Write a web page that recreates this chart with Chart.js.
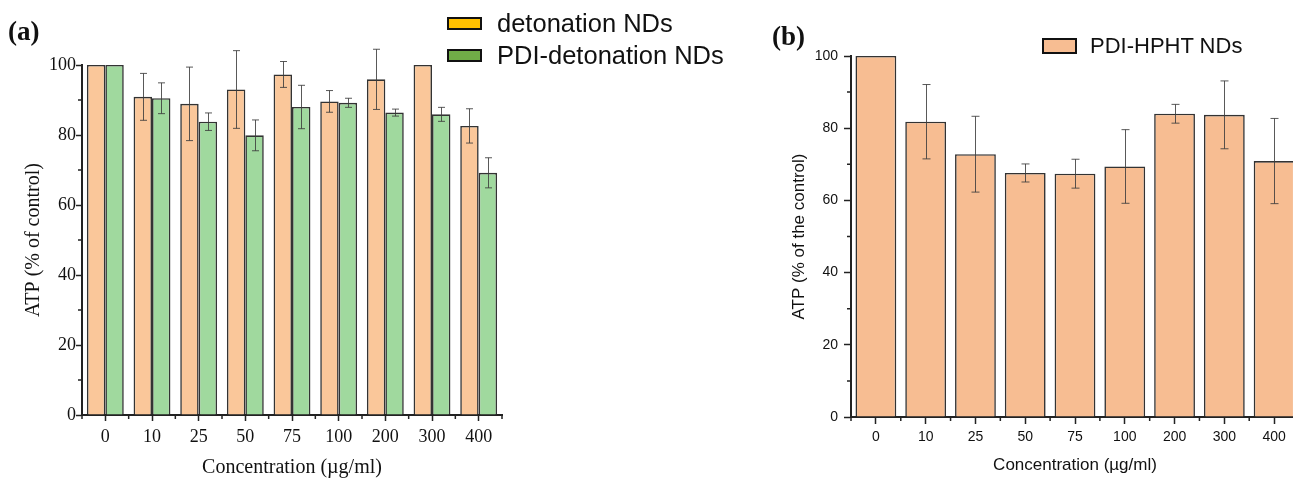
<!DOCTYPE html>
<html lang="en">
<head>
<meta charset="UTF-8">
<title>ATP (% of control)</title>
<script src="https://cdn.jsdelivr.net/npm/chart.js"></script>
<style>
  html, body { margin: 0; padding: 0; background: #fff; }
  body { width: 1293px; height: 479px; overflow: hidden; position: relative; }
  canvas { position: absolute; top: 0; }
  #chartA { left: 0; }
  #chartB { left: 770px; }
  .tag {
    position: absolute;
    font-family: 'Liberation Serif', 'Times New Roman', serif;
    font-weight: bold;
    font-size: 27px;
    line-height: 1;
    color: #111;
  }
  .legend-row {
    position: absolute;
    display: flex;
    align-items: center;
    font-family: 'Liberation Sans', Arial, sans-serif;
    color: #111;
    white-space: nowrap;
  }
  .legend-box {
    box-sizing: border-box;
    width: 35px;
    border: 2px solid #111;
  }
</style>
</head>
<body>
  <canvas id="chartA" width="520" height="479"></canvas>
  <canvas id="chartB" width="540" height="479"></canvas>

  <div class="tag" style="left:8px; top:18px;">(a)</div>
  <div class="tag" style="left:772px; top:23px;">(b)</div>

  <div class="legend-row" style="left:447px; top:9px; height:28px; font-size:25.5px;">
    <div class="legend-box" id="boxA1" style="height:13px; margin-right:15px;"></div><span id="legA1"></span>
  </div>
  <div class="legend-row" style="left:447px; top:41px; height:28px; font-size:25.5px;">
    <div class="legend-box" id="boxA2" style="height:13px; margin-right:15px;"></div><span id="legA2"></span>
  </div>
  <div class="legend-row" style="left:1042px; top:32px; height:28px; font-size:22px;">
    <div class="legend-box" id="boxB1" style="height:16px; margin-right:13px;"></div><span id="legB1"></span>
  </div>

  <script>
    // data
    const categories = ['0', '10', '25', '50', '75', '100', '200', '300', '400'];
    const yTicks = [0, 20, 40, 60, 80, 100];

    const detonation       = [100, 90.9, 88.9, 93.0, 97.3, 89.6, 95.9, 100, 82.6];
    const detonationErr    = [0, 6.7, 10.5, 11.1, 3.7, 3.1, 8.6, 0, 4.9];
    const pdiDetonation    = [100, 90.5, 83.8, 79.9, 88.0, 89.2, 86.4, 85.9, 69.2];
    const pdiDetonationErr = [0, 4.4, 2.5, 4.4, 6.2, 1.3, 1.0, 2.0, 4.3];
    const pdiHpht          = [100, 81.8, 72.8, 67.6, 67.4, 69.4, 84.0, 83.7, 70.9];
    const pdiHphtErr       = [0, 10.3, 10.5, 2.5, 4.0, 10.2, 2.6, 9.4, 11.8];

    const seriesNames = ['detonation NDs', 'PDI-detonation NDs', 'PDI-HPHT NDs'];
    const barColors = ['#FAC79A', '#A0D99E', '#F7BD92'];
    const legendColors = ['#FFC000', '#70AD47', '#F7BD92'];

    const serif = "'Liberation Serif', 'Times New Roman', serif";
    const sans = "'Liberation Sans', Arial, sans-serif";

    // html legends
    ['A1', 'A2', 'B1'].forEach((id, i) => {
      document.getElementById('leg' + id).textContent = seriesNames[i];
      document.getElementById('box' + id).style.background = legendColors[i];
    });

    const errorBars = {
      id: 'errorBars',
      afterDatasetsDraw(chart, args, opts) {
        const { ctx, scales: { y } } = chart;
        ctx.save();
        ctx.strokeStyle = opts.color;
        ctx.lineWidth = opts.width;
        chart.data.datasets.forEach((ds, di) => {
          if (!ds.errors) return;
          const meta = chart.getDatasetMeta(di);
          meta.data.forEach((bar, i) => {
            const e = ds.errors[i];
            if (!e) return;
            const v = ds.data[i];
            const top = y.getPixelForValue(v + e);
            const bot = y.getPixelForValue(v - e);
            const x = Math.round(bar.x) + 0.5;
            const c = opts.cap / 2;
            ctx.beginPath();
            ctx.moveTo(x, top); ctx.lineTo(x, bot);
            ctx.moveTo(x - c, top); ctx.lineTo(x + c, top);
            ctx.moveTo(x - c, bot); ctx.lineTo(x + c, bot);
            ctx.stroke();
          });
        });
        ctx.restore();
      }
    };

    const minorTicks = {
      id: 'minorTicks',
      afterDraw(chart, args, opts) {
        const { ctx, scales: { x, y } } = chart;
        ctx.save();
        ctx.strokeStyle = opts.color;
        ctx.lineWidth = opts.width;
        ctx.beginPath();
        for (let i = 0; i <= categories.length; i++) {
          const px = x.getPixelForValue(i - 0.5);
          ctx.moveTo(px, x.top);
          ctx.lineTo(px, x.top + opts.xLen);
        }
        for (let k = 0; k < yTicks.length - 1; k++) {
          const py = y.getPixelForValue((yTicks[k] + yTicks[k + 1]) / 2);
          ctx.moveTo(y.right, py);
          ctx.lineTo(y.right - opts.yLen, py);
        }
        ctx.stroke();
        ctx.restore();
      }
    };

    function axes(family, sizes, yTitle, dims) {
      return {
        x: {
          grid: { drawOnChartArea: false, offset: false, tickLength: dims.tick, tickColor: '#222', tickWidth: 1.5 },
          border: { color: '#222', width: 2 },
          ticks: { color: '#111', font: { family, size: sizes.tick }, padding: dims.xPad, maxRotation: 0 },
          title: {
            display: true, text: 'Concentration (µg/ml)', color: '#111',
            font: { family, size: sizes.title, lineHeight: 1 },
            padding: { top: 0, bottom: dims.xTitlePad }
          },
          afterFit: s => { s.height = dims.xHeight; }
        },
        y: {
          min: 0, max: 100,
          afterBuildTicks: s => { s.ticks = yTicks.map(v => ({ value: v })); },
          grid: { drawOnChartArea: false, tickLength: dims.tick, tickColor: '#222', tickWidth: 1.5 },
          border: { color: '#222', width: 2 },
          ticks: { color: '#111', font: { family, size: sizes.tick }, padding: dims.yPad },
          title: {
            display: true, text: yTitle, color: '#111',
            font: { family, size: sizes.title, lineHeight: 1 },
            padding: { top: dims.yTitlePad, bottom: 0 }
          },
          afterFit: s => { s.width = dims.yWidth; }
        }
      };
    }

    new Chart(document.getElementById('chartA'), {
      type: 'bar',
      data: {
        labels: categories,
        datasets: [
          { label: seriesNames[0], data: detonation, errors: detonationErr,
            backgroundColor: barColors[0], borderColor: '#333', borderWidth: 1.6,
            categoryPercentage: 0.79, barPercentage: 1 },
          { label: seriesNames[1], data: pdiDetonation, errors: pdiDetonationErr,
            backgroundColor: barColors[1], borderColor: '#333', borderWidth: 1.6,
            categoryPercentage: 0.79, barPercentage: 1 }
        ]
      },
      options: {
        responsive: false,
        animation: false,
        devicePixelRatio: 1,
        layout: { padding: { top: 65, right: 18, bottom: 0, left: 0 } },
        plugins: {
          legend: { display: false },
          tooltip: { enabled: false },
          errorBars: { color: 'rgba(60,60,60,0.85)', width: 1, cap: 7 },
          minorTicks: { color: '#222', width: 1.5, xLen: 4, yLen: 4 }
        },
        scales: axes(serif, { tick: 18, title: 20 }, 'ATP (% of control)',
          { tick: 6, xPad: 5, yPad: 0, xHeight: 64, yWidth: 82, xTitlePad: 1, yTitlePad: 24 })
      },
      plugins: [errorBars, minorTicks]
    });

    new Chart(document.getElementById('chartB'), {
      type: 'bar',
      data: {
        labels: categories,
        datasets: [
          { label: seriesNames[2], data: pdiHpht, errors: pdiHphtErr,
            backgroundColor: barColors[2], borderColor: '#333', borderWidth: 1.6,
            categoryPercentage: 0.82, barPercentage: 1 }
        ]
      },
      options: {
        responsive: false,
        animation: false,
        devicePixelRatio: 1,
        layout: { padding: { top: 56, right: 11, bottom: 0, left: 0 } },
        plugins: {
          legend: { display: false },
          tooltip: { enabled: false },
          errorBars: { color: 'rgba(60,60,60,0.85)', width: 1, cap: 8 },
          minorTicks: { color: '#222', width: 1.5, xLen: 4, yLen: 4 }
        },
        scales: axes(sans, { tick: 14, title: 17 }, 'ATP (% of the control)',
          { tick: 7, xPad: 5, yPad: 6, xHeight: 62, yWidth: 81, xTitlePad: 5, yTitlePad: 21 })
      },
      plugins: [errorBars, minorTicks]
    });
  </script>
</body>
</html>
